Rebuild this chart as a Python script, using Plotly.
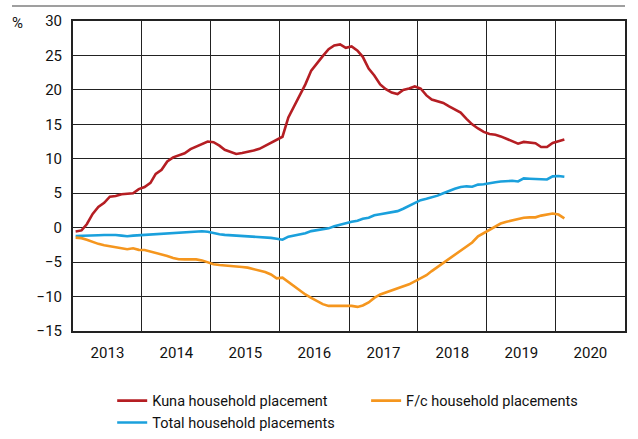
import pandas as pd
import plotly.graph_objects as go

# Monthly observations, Jan 2013 - Feb 2020 (annual rate of change, %)
months = pd.date_range("2013-01-01", periods=86, freq="MS") + pd.Timedelta(days=14)

kuna = [
    -0.55, -0.4, 0.5, 2.0, 3.0, 3.6, 4.5, 4.6, 4.85, 4.9, 5.0, 5.6,
    5.9, 6.5, 7.8, 8.4, 9.6, 10.2, 10.55, 10.8, 11.4, 11.8, 12.2, 12.5,
    12.4, 11.9, 11.3, 11.0, 10.7, 10.85, 11.0, 11.2, 11.45, 11.9, 12.35, 12.8,
    13.2, 16.0, 17.5, 19.2, 20.8, 22.8, 23.9, 24.9, 25.9, 26.45, 26.6, 26.1,
    26.3, 25.7, 24.8, 23.1, 22.1, 20.8, 20.1, 19.6, 19.4, 20.0, 20.2, 20.5,
    20.2, 19.2, 18.6, 18.35, 18.1, 17.6, 17.2, 16.7, 15.8, 15.0, 14.4, 13.9,
    13.6, 13.5, 13.25, 12.9, 12.5, 12.2, 12.45, 12.3, 12.25, 11.7, 11.7, 12.3,
    12.55, 12.8,
]

total = [
    -1.2, -1.2, -1.2, -1.15, -1.1, -1.07, -1.05, -1.06, -1.15, -1.25, -1.15, -1.1,
    -1.05, -1.0, -0.95, -0.85, -0.78, -0.8, -0.78, -0.7, -0.6, -0.52, -0.52, -0.6,
    -0.82, -0.95, -1.05, -1.1, -1.15, -1.2, -1.22, -1.28, -1.3, -1.38, -1.48, -1.6,
    -1.75, -1.3, -1.15, -0.95, -0.8, -0.5, -0.35, -0.22, -0.1, 0.2, 0.45, 0.6,
    0.85, 1.0, 1.3, 1.45, 1.8, 1.95, 2.1, 2.2, 2.4, 2.75, 3.2, 3.6,
    4.0, 4.2, 4.4, 4.65, 5.0, 5.35, 5.65, 5.9, 6.0, 5.95, 6.25, 6.3,
    6.5, 6.6, 6.7, 6.8, 6.8, 6.7, 7.15, 7.1, 7.05, 7.0, 7.0, 7.45,
    7.5, 7.4,
]

fc = [
    -1.45, -1.52, -1.75, -2.1, -2.35, -2.55, -2.72, -2.85, -3.0, -3.13, -3.0, -3.22,
    -3.24, -3.45, -3.7, -3.83, -4.1, -4.4, -4.58, -4.6, -4.6, -4.6, -4.75, -5.0,
    -5.3, -5.42, -5.47, -5.52, -5.62, -5.7, -5.8, -6.0, -6.18, -6.45, -6.8, -7.35,
    -7.25, -7.9, -8.55, -9.2, -9.7, -10.2, -10.7, -11.1, -11.36, -11.36, -11.36, -11.25,
    -11.36, -11.5, -11.3, -10.85, -10.2, -9.7, -9.4, -9.05, -8.8, -8.55, -8.22, -7.8,
    -7.3, -6.9, -6.3, -5.7, -5.2, -4.6, -4.0, -3.4, -2.75, -2.15, -1.25, -0.8,
    -0.35, 0.2, 0.6, 0.85, 1.05, 1.15, 1.45, 1.5, 1.5, 1.75, 1.95, 2.05,
    1.9, 1.36,
]

y_ticks = [-15, -10, -5, 0, 5, 10, 15, 20, 25, 30]

FONT = "Roboto, Liberation Sans, Arial, sans-serif"
RED = "#b51e23"
BLUE = "#1aa0dc"
ORANGE = "#f5961e"

fig = go.Figure()
fig.add_trace(go.Scatter(x=months, y=kuna, mode="lines", name="Kuna household placement",
                         line=dict(color=RED, width=2.6), legend="legend"))
fig.add_trace(go.Scatter(x=months, y=total, mode="lines", name="Total household placements",
                         line=dict(color=BLUE, width=2.6), legend="legend"))
fig.add_trace(go.Scatter(x=months, y=fc, mode="lines", name="F/c household placements",
                         line=dict(color=ORANGE, width=2.6), legend="legend2"))

legend_style = dict(
    orientation="v", xanchor="left", yanchor="top", yref="container",
    font=dict(family=FONT, size=14.5, color="#111"),
    bgcolor="rgba(0,0,0,0)", borderwidth=0, tracegroupgap=0,
)

fig.update_layout(
    width=638, height=439,
    margin=dict(l=73, r=13, t=21, b=108, autoexpand=False),
    paper_bgcolor="white", plot_bgcolor="white",
    font=dict(family=FONT, size=15, color="#111"),
    showlegend=True,
    legend=dict(x=0.071, y=0.1237, **legend_style),
    legend2=dict(x=0.531, y=0.1237, **legend_style),
    xaxis=dict(
        type="date",
        range=["2013-01-01", "2021-01-01"],
        dtick="M12", tick0="2013-01-01",
        tickformat="%Y", ticklabelmode="period",
        showgrid=True, gridcolor="#222", gridwidth=1.3,
        showline=True, linecolor="#222", linewidth=2, mirror=True,
        ticks="", ticklabelstandoff=7,
        tickfont=dict(family=FONT, size=15, color="#111"),
        fixedrange=True,
    ),
    yaxis=dict(
        range=[-15, 30], tickvals=y_ticks,
        showgrid=True, gridcolor="#222", gridwidth=1.3,
        zeroline=False,
        showline=True, linecolor="#222", linewidth=2, mirror=True,
        ticks="", ticklabelstandoff=6,
        tickfont=dict(family=FONT, size=15, color="#111"),
        fixedrange=True,
    ),
)

# Rule across the top of the figure
fig.add_shape(type="line", xref="paper", yref="paper",
              x0=-0.1105, x1=1.0, y0=1.0484, y1=1.0484,
              line=dict(color="#7f7f7f", width=1.6))

# Unit label
fig.add_annotation(text="%", xref="paper", yref="paper", x=-0.101, y=0.9935,
                   showarrow=False, xanchor="center", yanchor="middle",
                   font=dict(family=FONT, size=15, color="#111"))

fig.write_html("out.html")
